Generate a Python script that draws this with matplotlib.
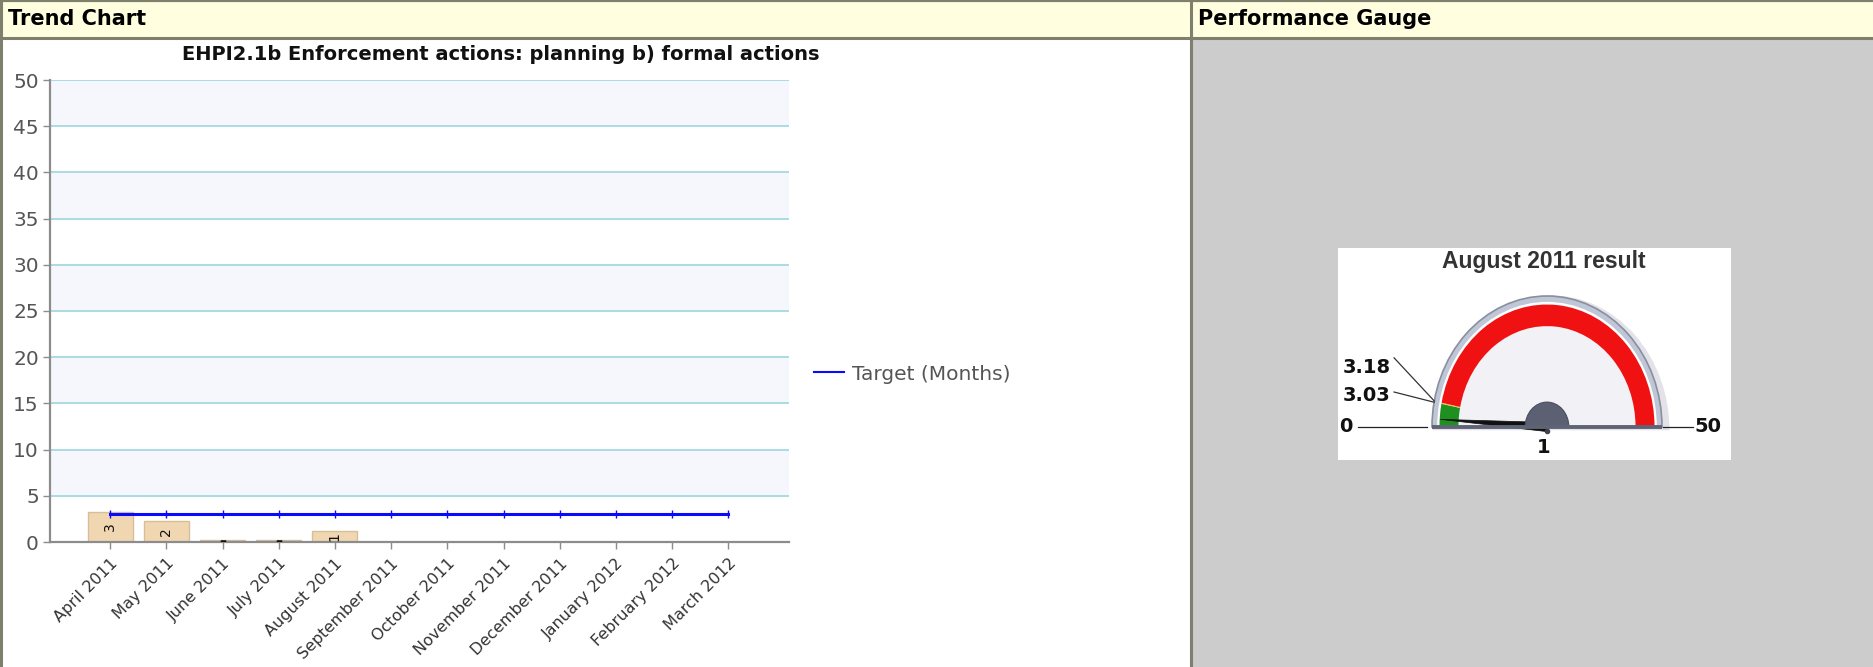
import matplotlib
matplotlib.use("Agg")
import matplotlib.pyplot as plt
from matplotlib.patches import Rectangle, Wedge, Polygon
from matplotlib.lines import Line2D
import numpy as np

# ---- data ----
months = ["April 2011", "May 2011", "June 2011", "July 2011", "August 2011",
          "September 2011", "October 2011", "November 2011", "December 2011",
          "January 2012", "February 2012", "March 2012"]
actual = [3, 2, 0, 0, 1]          # April .. August 2011
target = [3.03, 3.03, 3.03, 3.03, 3.03, 3.03, 3.03, 3.03, 3.03, 3.03, 3.03, 3.03]

chart_title = "EHPI2.1b Enforcement actions: planning b) formal actions"
gauge_title = "August 2011 result"
gauge_value = 1
gauge_min = 0
gauge_max = 50
gauge_green_to = 3.03
gauge_amber_to = 3.18

W, H = 1874, 667
BAR_DEPTH = 0.22   # 3d base of the bars

fig = plt.figure(figsize=(W / 100, H / 100), dpi=100)
fig.patch.set_facecolor("white")

# ---- page frame (headers / panels) ----
bg = fig.add_axes([0, 0, 1, 1], zorder=0)
bg.set_xlim(0, W)
bg.set_ylim(H, 0)
bg.axis("off")
border = "#7f7f6e"
bg.add_patch(Rectangle((0, 0), W, 37, fc="#ffffe0", ec="none"))
bg.add_patch(Rectangle((1192, 38), W - 1192, H - 38, fc="#cccccc", ec="none"))
bg.plot([0, W], [1, 1], color=border, lw=1.6)
bg.plot([0, W], [37.5, 37.5], color=border, lw=2.2)
bg.plot([1.5, 1.5], [0, H], color=border, lw=2.2)
bg.plot([1191.5, 1191.5], [0, H], color=border, lw=2.2)
bg.text(8, 19, "Trend Chart", fontsize=15, fontweight="bold", va="center", ha="left", color="black")
bg.text(1198, 19, "Performance Gauge", fontsize=15, fontweight="bold", va="center", ha="left", color="black")

# ---- trend chart ----
ax = fig.add_axes([50 / W, 1 - 542 / H, 739 / W, 462 / H], zorder=1)
ax.set_facecolor("white")
ax.set_xlim(-1.07, 12.08)
ax.set_ylim(0, 50)
for k in range(5, 50, 10):
    ax.axhspan(k, k + 5, color="#f5f7fd", zorder=0, lw=0)
ax.set_yticks(range(0, 51, 5))
ax.yaxis.grid(True, color="#a9dbe3", lw=1.4, zorder=0.5)
ax.set_axisbelow(True)

xs = np.arange(len(actual))
heights = [v + BAR_DEPTH for v in actual]
bars = ax.bar(xs, heights, width=0.8, color="#f0d7b1", edgecolor="#d8be98", lw=1, zorder=2)
for x, v, h in zip(xs, actual, heights):
    lab = str(v) if v else "\u2013"
    ax.text(x, h / 2, lab, rotation=90 if v else 0, ha="center", va="center",
            fontsize=10, fontweight="bold" if not v else "normal", color="#111", zorder=3)

ax.plot(np.arange(len(target)), target, color="#0a0aff", lw=2.2, marker="|", ms=6, mew=1, zorder=4)

ax.set_xticks(np.arange(len(months)))
ax.set_xticklabels(months, rotation=45, ha="right", va="top", rotation_mode="anchor")
ax.tick_params(axis="x", length=5, width=1, color="#8c8c8c", labelsize=11.5, labelcolor="#333333", pad=5)
ax.tick_params(axis="y", length=5, width=1, color="#8c8c8c", labelsize=14.5, labelcolor="#555555", pad=3)
for s in ("top", "right"):
    ax.spines[s].set_visible(False)
for s in ("left", "bottom"):
    ax.spines[s].set_color("#8c8c8c")
    ax.spines[s].set_linewidth(1.6)

fig.text(501 / W, 1 - 55 / H, chart_title, ha="center", va="center", fontsize=14, fontweight="bold", color="#111")

ax.legend(handles=[Line2D([], [], color="#0a0aff", lw=1.5)], labels=["Target (Months)"],
          loc="center left", bbox_to_anchor=(814 / W, 1 - 374 / H), bbox_transform=fig.transFigure,
          frameon=False, fontsize=14.5, handlelength=1.5, handletextpad=0.4,
          borderpad=0, borderaxespad=0, labelcolor="#555555")

# ---- gauge ----
bx0, bx1, by0, by1 = 1338, 1731, 248, 460      # white box (pixels, y from top)
cx, cy = 1547, 427                              # gauge centre
sx, sy = 115.0, 131.0                           # pixels per gauge unit
gx = fig.add_axes([bx0 / W, 1 - by1 / H, (bx1 - bx0) / W, (by1 - by0) / H], zorder=2)
gx.set_xlim((bx0 - cx) / sx, (bx1 - cx) / sx)
gx.set_ylim((cy - by1) / sy, (cy - by0) / sy)
gx.set_facecolor("white")
gx.set_xticks([])
gx.set_yticks([])
for s in gx.spines.values():
    s.set_visible(False)


def ang(v):
    return 180 - (v - gauge_min) / (gauge_max - gauge_min) * 180


# bezel and face
gx.add_patch(Wedge((0.035, -0.025), 1.03, 0, 180, fc="#e2e2e8", ec="none"))
gx.add_patch(Wedge((0, 0), 1.0, 0, 180, fc="#bfc6d6", ec="#8a8fa0", lw=1.2))
gx.add_patch(Wedge((0, 0), 0.955, 0, 180, fc="#fdfdfe", ec="none"))
gx.add_patch(Wedge((0, 0), 0.775, 0, 180, fc="#f2f2f6", ec="none"))
# colour bands
rb, wb = 0.935, 0.165
gx.add_patch(Wedge((0, 0), rb, ang(gauge_green_to), ang(gauge_min), width=wb, fc="#1f8f1f", ec="none"))
gx.add_patch(Wedge((0, 0), rb, ang(gauge_amber_to), ang(gauge_green_to), width=wb, fc="#e8c040", ec="none"))
gx.add_patch(Wedge((0, 0), rb, ang(gauge_max), ang(gauge_amber_to), width=wb, fc="#f01212", ec="none"))
# baseline
gx.plot([-1.0, 1.0], [0, 0], color="#5f6474", lw=2.8, solid_capstyle="butt")
# needle
a = np.deg2rad(ang(gauge_value))
L, hw = 0.93, 0.035
tip = (L * np.cos(a), L * np.sin(a))
perp = (-np.sin(a), np.cos(a))
gx.add_patch(Polygon([(hw * perp[0], hw * perp[1]), tip, (-hw * perp[0], -hw * perp[1])],
                     closed=True, fc="#111111", ec="#111111", lw=0.5))
# hub
gx.add_patch(Wedge((0, 0), 0.19, 0, 180, fc="#5b6172", ec="#4a4f5e", lw=0.8))
gx.plot([0], [-0.03], "o", color="#3e4250", ms=3)

# scale labels and leaders
lab_kw = dict(fontsize=14, fontweight="bold", color="#111111", family="DejaVu Sans")
gx.plot([-1.64, -1.043], [0, 0], color="#222222", lw=0.9)
gx.plot([1.009, 1.27], [0, 0], color="#222222", lw=0.9)
gx.text(-1.75, 0, str(gauge_min), ha="center", va="center", **lab_kw)
gx.text(1.285, 0, str(gauge_max), ha="left", va="center", **lab_kw)
for v, ty in ((gauge_amber_to, 0.458), (gauge_green_to, 0.237)):
    r = np.deg2rad(ang(v))
    gx.plot([-1.33, 1.0 * np.cos(r)], [ty + 0.07 if v == gauge_amber_to else ty + 0.03, 1.0 * np.sin(r)],
            color="#333333", lw=0.9)
    gx.text(-1.36, ty, "%.2f" % v, ha="right", va="center", **lab_kw)
gx.text(-0.03, -0.16, str(gauge_value), ha="center", va="center", **lab_kw)
gx.text(-0.03, 1.267, gauge_title, ha="center", va="center", fontsize=16.5, fontweight="bold",
        color="#333333", family="Liberation Sans")

fig.savefig("out.png", dpi=100, facecolor=fig.get_facecolor())
